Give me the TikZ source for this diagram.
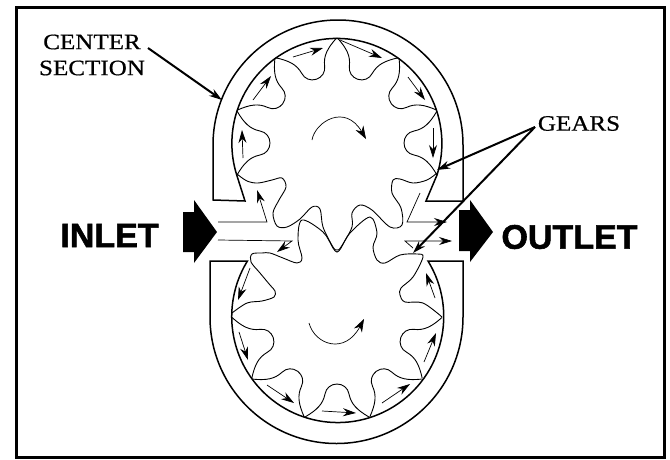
\documentclass[tikz,border=0pt]{standalone}
\usepackage{fontspec}
\usetikzlibrary{arrows.meta}
\newfontfamily\lblfont[FakeStretch=1.14,FakeBold=0.6]{Liberation Serif}
\newfontfamily\bigfont[FakeBold=1.6]{Liberation Sans}
\tikzset{
  x=1pt,y=-1pt,
  framebox/.style={draw=black,line width=3pt},
  casing/.style={draw=black,line width=1.5pt,line join=miter},
  gearline/.style={draw=black,line width=0.9pt},
  flow/.style={draw=black,line width=0.7pt,-{Stealth[length=13pt,width=8pt]}},
  leader/.style={draw=black,line width=2pt,-{Stealth[length=13pt,width=8pt]}},
  bigarrow/.style={fill=black,draw=none},
  lbl/.style={font=\lblfont\fontsize{22}{24}\selectfont,inner sep=0pt},
  biglbl/.style={font=\bigfont\bfseries\fontsize{34}{36}\selectfont,inner sep=0pt},
}
\newcommand{\valley}[3]{% cx, cy, angle
  \draw[gearline,shift={(#1,#2)},rotate=#3]
    (100,32) .. controls (93,20) and (87,14) .. (77,12)
    .. controls (71,11) and (67,6) .. (67,0)
    .. controls (67,-6) and (71,-11) .. (77,-12)
    .. controls (87,-14) and (93,-20) .. (100,-32);
}
\begin{document}
\begin{tikzpicture}
\useasboundingbox (0,0) rectangle (670,459);
\fill[white] (0,0) rectangle (670,459);
\draw[framebox] (16,7) rectangle (664.5,457);
% casings
\draw[casing] (213,200) -- (213,145) arc[start angle=180,end angle=0,radius=125pt]
  -- (463,201) -- (426,201) -- (437,175)
  arc[start angle=-17.5,end angle=197.5,radius=105pt] -- (245,201) -- cycle;
\draw[casing] (210,261) -- (210,317) arc[start angle=180,end angle=360,radius=126.5pt]
  -- (463,261) -- (428,261)
  arc[start angle=31.6,end angle=-211.6,radius=106pt] -- cycle;
% top gear
\foreach \a in {108,144,180,72,36,0}{\valley{337}{143}{\a}}
\draw[gearline] plot[smooth,tension=0.55] coordinates {(237,174) (247,181) (258,183) (272,180) (282,178) (286,187) (279,200) (273,213) (277,226) (287,227) (300,219) (312,207) (320,209) (323,227) (333,247) (337,250) (341,247) (352,227) (352,213) (360,205) (372,210) (390,227) (402,225) (401,208) (392,193) (393,180) (400,179) (413,183) (427,180) (437,173)};
% bottom gear
\foreach \a in {198,234,270,306,342}{\valley{337}{317}{\a}}
\draw[gearline] plot[smooth,tension=0.55] coordinates {(232,313) (247,303) (262,301) (274,297) (275,291) (270,285) (260,273) (251,262) (252,254) (262,253) (270,253) (283,258) (297,263) (302,258) (298,240) (302,220) (323,232) (333,248) (337,252) (341,248) (350,233) (370,217) (377,233) (373,247) (377,260) (385,263) (400,255) (417,254) (423,257) (413,277) (401,288) (400,295) (405,302) (423,303) (442,317)};
% flow arrows
\coordinate (f1a) at (293,57);  \coordinate (f1b) at (323,48);
\coordinate (f2a) at (340,40);  \coordinate (f2b) at (382,58);
\coordinate (f3a) at (408,77);  \coordinate (f3b) at (425,100);
\coordinate (f4a) at (433,128); \coordinate (f4b) at (433,158);
\coordinate (f5a) at (243,158); \coordinate (f5b) at (242,130);
\coordinate (f6a) at (253,100); \coordinate (f6b) at (271,76);
\coordinate (f7a) at (218,222); \coordinate (f7c) at (267,222); \coordinate (f7b) at (257,190);
\coordinate (f8a) at (420,193); \coordinate (f8c) at (407,222); \coordinate (f8b) at (447,222);
\coordinate (f9a) at (218,240); \coordinate (f9c) at (292,241); \coordinate (f9b) at (277,252);
\coordinate (f10a) at (413,248); \coordinate (f10c) at (405,241); \coordinate (f10b) at (452,241);
\coordinate (f11a) at (250,268); \coordinate (f11b) at (238,300);
\coordinate (f12a) at (239,332); \coordinate (f12b) at (248,360);
\coordinate (f13a) at (267,385); \coordinate (f13b) at (294,403);
\coordinate (f14a) at (322,411); \coordinate (f14b) at (356,413);
\coordinate (f15a) at (382,403); \coordinate (f15b) at (410,384);
\coordinate (f16a) at (424,362); \coordinate (f16b) at (436,333);
\coordinate (f17a) at (435,298); \coordinate (f17b) at (426,273);
\draw[flow] (f1a) -- (f1b);
\draw[flow] (f2a) -- (f2b);
\draw[flow] (f3a) -- (f3b);
\draw[flow] (f4a) -- (f4b);
\draw[flow] (f5a) -- (f5b);
\draw[flow] (f6a) -- (f6b);
\draw[flow] (f7a) -- (f7c) -- (f7b);
\draw[flow] (f8a) -- (f8c) -- (f8b);
\draw[flow] (f9a) -- (f9c) -- (f9b);
\draw[flow] (f10a) -- (f10c) -- (f10b);
\draw[flow] (f11a) -- (f11b);
\draw[flow] (f12a) -- (f12b);
\draw[flow] (f13a) -- (f13b);
\draw[flow] (f14a) -- (f14b);
\draw[flow] (f15a) -- (f15b);
\draw[flow] (f16a) -- (f16b);
\draw[flow] (f17a) -- (f17b);
% rotation arrows
\coordinate (r1a) at (312,140); \coordinate (r1b) at (366,139);
\coordinate (r2a) at (309,323); \coordinate (r2b) at (364,319);
\draw[flow,-{Stealth[length=13pt,width=9pt]}] (r1a) .. controls (315,122) and (345,103) .. (r1b);
\draw[flow,-{Stealth[length=13pt,width=9pt]}] (r2a) .. controls (315,345) and (345,355) .. (r2b);
% big arrows
\fill[bigarrow] (183,212) -- (194,212) -- (194,200) -- (217,232) -- (194,263) -- (194,252) -- (183,252) -- cycle;
\fill[bigarrow] (459,210) -- (470,210) -- (470,200) -- (493,232) -- (470,262) -- (470,251) -- (459,251) -- cycle;
% labels
\node[lbl] (center) at (92,42) {CENTER};
\node[lbl] (section) at (92,68) {SECTION};
\node[lbl] (gears) at (579,123.5) {GEARS};
\node[biglbl] (inlet) at (109.5,235.5) {INLET};
\node[biglbl] (outlet) at (569.5,237) {OUTLET};
% leaders
\coordinate (csfrom) at (148,48); \coordinate (csto) at (222,100);
\coordinate (gapex) at (535,127); \coordinate (g1) at (437,170); \coordinate (g2) at (413,253);
\draw[leader] (csfrom) -- (csto);
\draw[leader] (gapex) -- (g1);
\draw[leader] (gapex) -- (g2);
\end{tikzpicture}
\end{document}
